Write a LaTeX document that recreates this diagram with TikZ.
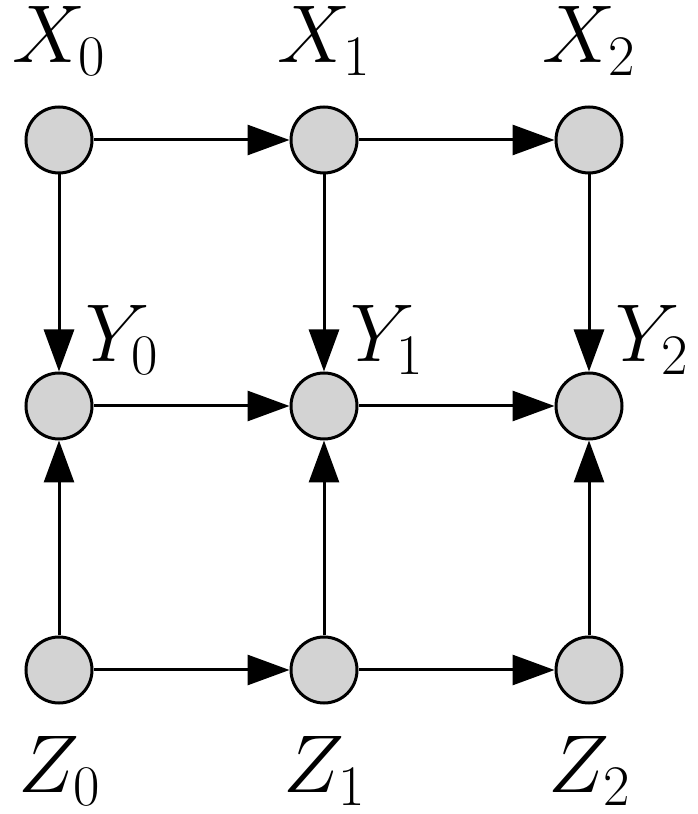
\RequirePackage{fix-cm}
\documentclass[tikz,border=0pt]{standalone}
\usetikzlibrary{arrows.meta}
\begin{document}
\begin{tikzpicture}[x=1pt,y=1pt,
  var/.style={circle,draw=black,fill={rgb,255:red,211;green,211;blue,211},line width=3pt,minimum size=66pt,inner sep=0pt},
  lbl/.style={font=\fontsize{82}{90}\selectfont,inner sep=0pt},
  edge/.style={line width=3pt,-{Triangle[length=42pt,width=30pt]}}]
\useasboundingbox (0,0) rectangle (698,814);
\foreach \i/\x in {0/59,1/324,2/589}{
  \node[var] (X\i) at (\x,674) {};
  \node[var] (Y\i) at (\x,408) {};
  \node[var] (Z\i) at (\x,144) {};
  \node[lbl,anchor=base] (LX\i) at (\x,751) {$X_\i$};
  \node[lbl,anchor=base west] (LY\i) at (\x+26,452) {$Y_\i$};
  \node[lbl,anchor=base] (LZ\i) at (\x,21) {$Z_\i$};
}
\foreach \a/\b in {0/1,1/2}{
  \draw[edge] (X\a) -- (X\b);
  \draw[edge] (Y\a) -- (Y\b);
  \draw[edge] (Z\a) -- (Z\b);
}
\foreach \i in {0,1,2}{
  \draw[edge] (X\i) -- (Y\i);
  \draw[edge] (Z\i) -- (Y\i);
}
\end{tikzpicture}
\end{document}
